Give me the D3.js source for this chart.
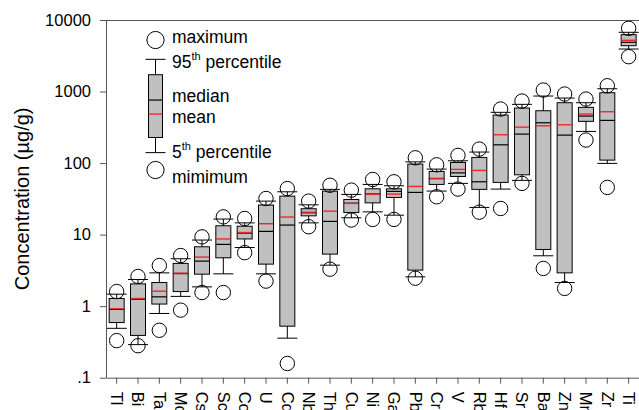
<!DOCTYPE html>
<meta charset="utf-8">
<style>
  body { margin: 0; background: #fff; }
  svg { display: block; font-family: "Liberation Sans", Arial, sans-serif; }
  .axis line, .axis path { stroke: #555; stroke-width: 1px; fill: none; }
  .box { fill: #c0c0c0; stroke: #000; stroke-width: 1px; }
  .whisker { stroke: #000; stroke-width: 1px; }
  .median { stroke: #000; stroke-width: 1.2px; }
  .mean { stroke: #f02828; stroke-width: 1.4px; }
  .dot { fill: none; stroke: #000; stroke-width: 1px; }
</style>
<body>
<svg width="639" height="410"></svg>
<script src="https://cdn.jsdelivr.net/npm/d3@7"></script>
<script>
  var elements = ["Tl", "Bi", "Ta", "Mo", "Cs", "Sc", "Co", "U", "Cd", "Nb", "Th", "Cu", "Ni",
                  "Ga", "Pb", "Cr", "V", "Rb", "Hf", "Sr", "Ba", "Zn", "Mn", "Zr", "Ti"];
  var minimum = [0.33, 0.28, 0.46, 0.88, 1.55, 1.55, 5.6, 2.24, 0.158, 12.9, 3.29, 16, 16.3,
                 16.3, 2.46, 33.8, 43.3, 20.6, 23.2, 52, 3.37, 1.77, 210, 45.7, 3070];
  var p5 = [0.49, 0.29, 0.79, 1.37, 1.86, 2.83, 6.6, 2.83, 0.357, 14.6, 3.74, 17.2, 20.8,
            18.7, 2.57, 40.6, 52, 24, 43.3, 57.3, 5.06, 2.14, 277, 99, 3930];
  var q1 = [0.59, 0.39, 1.07, 1.6, 2.8, 4.74, 8.7, 3.87, 0.525, 18.3, 5.34, 20.4, 27.8,
            33.1, 3.19, 50.3, 65, 42.9, 53.7, 68.6, 6.2, 2.92, 383, 110, 4370];
  var median = [0.9, 1.25, 1.35, 2.85, 4.26, 7.3, 10.5, 11.1, 13.6, 20.2, 15.3, 27.5, 37,
                40.2, 38.9, 61, 73, 54.8, 180, 254, 366, 246, 454, 395, 4880];
  var mean = [0.92, 1.28, 1.62, 2.9, 4.85, 8.7, 10.7, 14.2, 17.6, 20.6, 21.3, 27.3, 36.5,
              36.8, 47.2, 60.3, 81.6, 79, 249, 318, 332, 343, 484, 522, 5200];
  var q3 = [1.28, 2.05, 2.14, 3.96, 6.76, 13.3, 13.1, 25.9, 34.5, 23, 40.6, 31, 43.7,
            43.7, 96.8, 76.5, 102, 120, 469, 588, 539, 698, 601, 962, 6240];
  var p95 = [1.47, 2.36, 2.92, 4.6, 8.4, 16.5, 14.6, 29.4, 39.7, 26.1, 42.9, 36.5, 50.3,
             48.2, 104, 82.4, 107.7, 142.6, 512, 662, 865, 811, 698, 1094, 6730];
  var maximum = [1.6, 2.6, 3.7, 5.1, 9.3, 17.7, 16.8, 32, 44, 29.4, 49, 41.9, 59,
                 54.8, 118.6, 94.6, 128, 157, 569, 736, 1050, 923, 785, 1205, 7650];
  var yTicks = [0.1, 1, 10, 100, 1000, 10000];
  var yTickLabels = [".1", "1", "10", "100", "1000", "10000"];
  // sample box drawn as the key, in data units
  var keyValues = {min: 80, p5: 140, q1: 228, median: 760, mean: 484, q3: 1718, p95: 2820, max: 5250};

  var rows = elements.map(function(e, i) {
    return {name: e, min: minimum[i], p5: p5[i], q1: q1[i], median: median[i],
            mean: mean[i], q3: q3[i], p95: p95[i], max: maximum[i]};
  });

  var plotLeft = 106, plotRight = 639.3, plotTop = 20, plotBottom = 377.7;
  var svg = d3.select("svg");

  var x = d3.scaleBand().domain(elements).range([plotLeft, plotRight]).padding(0);
  var y = d3.scaleLog().domain([0.1, 10000]).range([plotBottom, plotTop]);

  // frame top line
  svg.append("line")
    .attr("x1", plotLeft).attr("x2", plotRight).attr("y1", plotTop + 0.5).attr("y2", plotTop + 0.5)
    .attr("stroke", "#555");

  var yAxis = svg.append("g")
    .attr("class", "axis")
    .attr("transform", "translate(" + plotLeft + ",0)")
    .call(d3.axisLeft(y).tickValues(yTicks).tickSize(6).tickSizeOuter(0).tickPadding(9)
      .tickFormat(function(d, i) { return yTickLabels[i]; }));
  yAxis.selectAll("text").attr("font-size", "16.5px").attr("fill", "#000")
    .attr("font-family", "Liberation Sans, Arial, sans-serif");

  var xAxis = svg.append("g")
    .attr("class", "axis")
    .attr("transform", "translate(0," + plotBottom + ")")
    .call(d3.axisBottom(x).tickSize(6).tickSizeOuter(0).tickPadding(0));
  xAxis.selectAll("text")
    .attr("font-size", "16.5px").attr("fill", "#000")
    .attr("font-family", "Liberation Sans, Arial, sans-serif")
    .attr("text-anchor", "start")
    .attr("y", 0).attr("dy", "0.35em")
    .attr("transform", "translate(0,14) rotate(90)");

  svg.append("text")
    .attr("transform", "translate(28.5," + (plotTop + plotBottom) / 2 + ") rotate(-90)")
    .attr("text-anchor", "middle")
    .attr("font-size", "20px")
    .text("Concentration (µg/g)");

  function drawBox(g, d, cx, bw, cw, r) {
    g.append("line").attr("class", "whisker")
      .attr("x1", cx).attr("x2", cx).attr("y1", y(d.p95)).attr("y2", y(d.p5));
    g.append("line").attr("class", "whisker")
      .attr("x1", cx - cw / 2).attr("x2", cx + cw / 2).attr("y1", y(d.p95)).attr("y2", y(d.p95));
    g.append("line").attr("class", "whisker")
      .attr("x1", cx - cw / 2).attr("x2", cx + cw / 2).attr("y1", y(d.p5)).attr("y2", y(d.p5));
    g.append("rect").attr("class", "box")
      .attr("x", cx - bw / 2).attr("width", bw)
      .attr("y", y(d.q3)).attr("height", y(d.q1) - y(d.q3));
    g.append("line").attr("class", "median")
      .attr("x1", cx - bw / 2).attr("x2", cx + bw / 2).attr("y1", y(d.median)).attr("y2", y(d.median));
    g.append("line").attr("class", "mean")
      .attr("x1", cx - bw / 2 + 0.5).attr("x2", cx + bw / 2 - 0.5).attr("y1", y(d.mean)).attr("y2", y(d.mean));
    g.append("circle").attr("class", "dot").attr("cx", cx).attr("cy", y(d.max)).attr("r", r);
    g.append("circle").attr("class", "dot").attr("cx", cx).attr("cy", y(d.min)).attr("r", r);
  }

  svg.append("g").selectAll("g")
    .data(rows)
    .join("g")
    .each(function(d) {
      drawBox(d3.select(this), d, x(d.name) + x.bandwidth() / 2, 15, 20, 7.2);
    });

  // key
  var key = svg.append("g");
  drawBox(key, keyValues, 155.5, 14, 20, 8.6);
  var keyText = key.append("g").attr("font-size", "17.5px").attr("fill", "#000");
  keyText.append("text").attr("x", 172).attr("y", 42.5).text("maximum");
  var t95 = keyText.append("text").attr("x", 172).attr("y", 68.3);
  t95.append("tspan").text("95");
  t95.append("tspan").attr("font-size", "11px").attr("dy", -8.5).text("th");
  t95.append("tspan").attr("dy", 8.5).text(" percentile");
  keyText.append("text").attr("x", 172).attr("y", 101.7).text("median");
  keyText.append("text").attr("x", 172).attr("y", 123.3).text("mean");
  var t5 = keyText.append("text").attr("x", 172).attr("y", 158.3);
  t5.append("tspan").text("5");
  t5.append("tspan").attr("font-size", "11px").attr("dy", -8.5).text("th");
  t5.append("tspan").attr("dy", 8.5).text(" percentile");
  keyText.append("text").attr("x", 172).attr("y", 182.7).text("mimimum");
</script>
</body>
